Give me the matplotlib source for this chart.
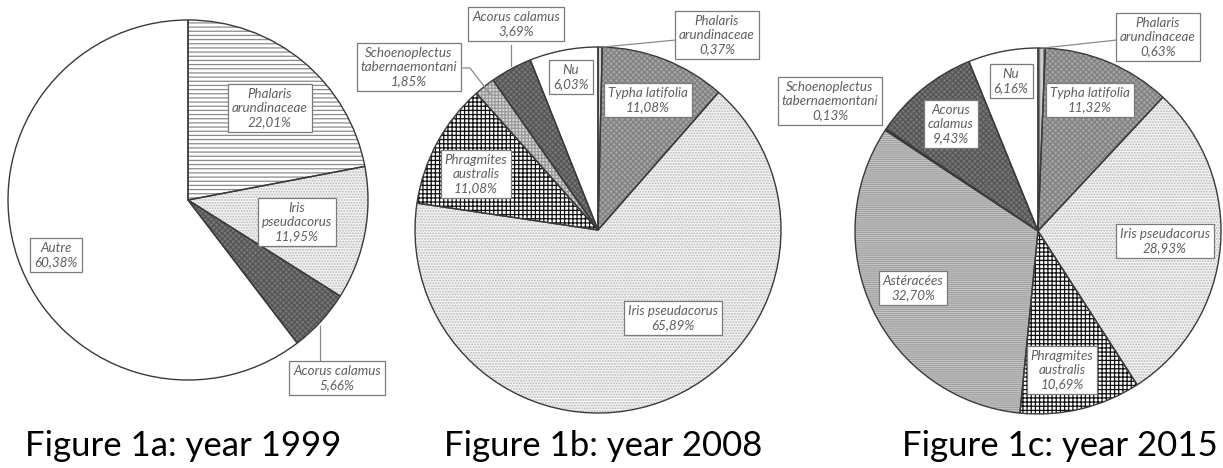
import matplotlib
matplotlib.use('Agg')
import matplotlib.pyplot as plt

plt.rcParams['hatch.linewidth'] = 0.9

# --- data ---
labels_1999 = ['Phalaris\narundinaceae', 'Iris\npseudacorus', 'Acorus calamus', 'Autre']
values_1999 = [22.01, 11.95, 5.66, 60.38]

labels_2008 = ['Phalaris\narundinaceae', 'Typha latifolia', 'Iris pseudacorus',
               'Phragmites\naustralis', 'Schoenoplectus\ntabernaemontani',
               'Acorus calamus', 'Nu']
values_2008 = [0.37, 11.08, 65.89, 11.08, 1.85, 3.69, 6.03]

labels_2015 = ['Phalaris\narundinaceae', 'Typha latifolia', 'Iris pseudacorus',
               'Phragmites\naustralis', 'Astéracées', 'Schoenoplectus\ntabernaemontani',
               'Acorus\ncalamus', 'Nu']
values_2015 = [0.63, 11.32, 28.93, 10.69, 32.70, 0.13, 9.43, 6.16]

titles = ['Figure 1a: year 1999', 'Figure 1b: year 2008', 'Figure 1c: year 2015']

# fill styles per species: (facecolor, hatch, hatchcolor)
styles = {
    'Phalaris': ('white', '----', '#8a8a8a'),
    'Iris': ('#f3f3f3', '......', '#b8b8b8'),
    'Acorus': ('#767676', 'xxxxxx', '#555555'),
    'Autre': ('white', '', 'white'),
    'Nu': ('white', '', 'white'),
    'Typha': ('#a4a4a4', 'xxxxxx', '#808080'),
    'Phragmites': ('white', '++++', '#111111'),
    'Schoenoplectus': ('#d8d8d8', '+++++', '#999999'),
    'Astéracées': ('#cccccc', '--------', '#a0a0a0'),
}
phalaris_small = ('#cfcfcf', '||||', '#777777')

H = 468


def style_of(name, small_phalaris):
    key = name.split('\n')[0].split(' ')[0]
    if key == 'Phalaris' and small_phalaris:
        return phalaris_small
    return styles[key]


def draw_pie(ax, labels, values, cx, cy, r, small_phalaris=False):
    sty = [style_of(l, small_phalaris) for l in labels]
    w1, _ = ax.pie(values, center=(cx, H - cy), radius=r, startangle=90,
                   counterclock=False, colors=[s[0] for s in sty],
                   hatch=[s[1] for s in sty], normalize=True,
                   wedgeprops=dict(linewidth=0))
    for w, s in zip(w1, sty):
        w.set_edgecolor(s[2])
    # outlines on top
    ax.pie(values, center=(cx, H - cy), radius=r, startangle=90,
           counterclock=False, colors=['none'] * len(values), normalize=True,
           wedgeprops=dict(linewidth=1.0, edgecolor='#3a3a3a'))


def box(ax, x, y, text):
    ax.text(x, H - y, text, ha='center', va='center', multialignment='center',
            fontsize=9.6, style='italic', color='#5e5e5e', family=['Lato', 'DejaVu Sans'],
            linespacing=1.2,
            bbox=dict(boxstyle='square,pad=0.3', fc='white', ec='#7a7a7a', lw=0.9),
            zorder=5)


def leader(ax, xs, ys):
    ax.plot(xs, [H - y for y in ys], color='#8a8a8a', lw=0.9, zorder=4)


fig = plt.figure(figsize=(12.23, 4.68), dpi=100)
ax = fig.add_axes([0, 0, 1, 1])

draw_pie(ax, labels_1999, values_1999, 188, 200, 180)
draw_pie(ax, labels_2008, values_2008, 598, 230, 183, small_phalaris=True)
draw_pie(ax, labels_2015, values_2015, 1038, 231, 183, small_phalaris=True)

ax.set_xlim(0, 1223)
ax.set_ylim(0, H)
ax.set_aspect('equal')
ax.axis('off')

# leader lines
leader(ax, [320, 320], [326, 360])
leader(ax, [511, 511], [45, 66])
leader(ax, [463, 470, 490], [68, 68, 94])
leader(ax, [603, 676], [47, 40])
leader(ax, [1043, 1117], [48, 40])

# labels 1999
box(ax, 270, 108, labels_1999[0] + '\n22,01%')
box(ax, 297, 222, labels_1999[1] + '\n11,95%')
box(ax, 337, 378, labels_1999[2] + '\n5,66%')
box(ax, 56, 255, labels_1999[3] + '\n60,38%')

# labels 2008
box(ax, 717, 35, labels_2008[0] + '\n0,37%')
box(ax, 648, 100, labels_2008[1] + '\n11,08%')
box(ax, 673, 318, labels_2008[2] + '\n65,89%')
box(ax, 476, 174, labels_2008[3] + '\n11,08%')
box(ax, 409, 67, labels_2008[4] + '\n1,85%')
box(ax, 516, 24, labels_2008[5] + '\n3,69%')
box(ax, 571, 77, labels_2008[6] + '\n6,03%')

# labels 2015
box(ax, 1158, 37, labels_2015[0] + '\n0,63%')
box(ax, 1090, 100, labels_2015[1] + '\n11,32%')
box(ax, 1165, 241, labels_2015[2] + '\n28,93%')
box(ax, 1062, 370, labels_2015[3] + '\n10,69%')
box(ax, 913, 288, labels_2015[4] + '\n32,70%')
box(ax, 830, 101, labels_2015[5] + '\n0,13%')
box(ax, 951, 124, labels_2015[6] + '\n9,43%')
box(ax, 1011, 81, labels_2015[7] + '\n6,16%')

for x, t in zip([183, 603, 1060], titles):
    ax.text(x, H - 446, t, ha='center', va='center', fontsize=25,
            family=['Lato', 'DejaVu Sans'], color='black')

fig.savefig('out.png', dpi=100)
